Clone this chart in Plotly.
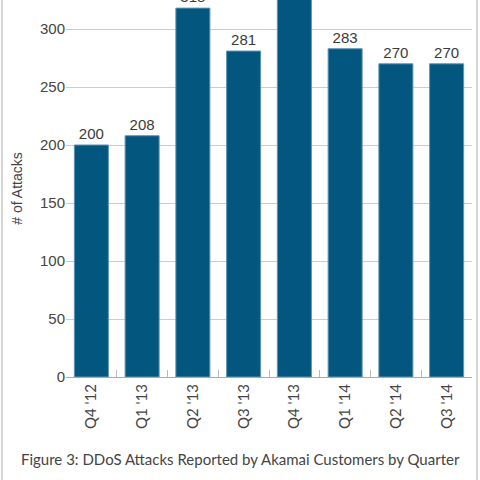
import plotly.graph_objects as go

# Ataques DDoS reportados por trimestre
quarters = ["Q4 '12", "Q1 '13", "Q2 '13", "Q3 '13", "Q4 '13", "Q1 '14", "Q2 '14", "Q3 '14"]
attacks = [200, 208, 318, 281, 346, 283, 270, 270]
y_ticks = [0, 50, 100, 150, 200, 250, 300]

fig = go.Figure()

fig.add_trace(go.Bar(
    x=quarters, y=attacks,
    text=[str(v) for v in attacks], textposition='outside',
    textfont=dict(size=15, color='#3a3a3a', family='Liberation Sans, Arial'),
    marker=dict(color='#03577f', line=dict(color='#5f93b3', width=1)),
    cliponaxis=True,
))

fig.update_layout(
    width=480, height=480,
    margin=dict(l=66, r=8, t=0, b=103),
    plot_bgcolor='white', paper_bgcolor='white',
    bargap=0.33,
    showlegend=False,
    font=dict(family='Liberation Sans, Arial', color='#444444'),
    xaxis=dict(
        type='category', tickangle=-90, tickson='boundaries',
        ticks='inside', ticklen=7, tickcolor='#bbbbbb',
        showline=True, linecolor='#aaaaaa', linewidth=1,
        showgrid=False, tickfont=dict(size=15, color='#444444', family='Lato'),
        automargin=False,
    ),
    yaxis=dict(
        range=[0, 325], tickvals=y_ticks, showgrid=True,
        gridcolor='#cccccc', gridwidth=1, zeroline=False,
        tickfont=dict(size=15, color='#444444'),
        title=dict(text='# of Attacks', font=dict(size=14, color='#444444'), standoff=14),
        automargin=False,
    ),
)

# moldura lateral da figura
for xp in [(2 - 66) / 406, (477 - 66) / 406]:
    fig.add_shape(type='line', xref='paper', yref='paper', x0=xp, x1=xp, y0=-0.3, y1=1.0,
                  line=dict(color='#aaaaaa', width=1))

fig.add_annotation(
    text='Figure 3: DDoS Attacks Reported by Akamai Customers by Quarter',
    xref='paper', yref='paper', x=(240 - 66) / 406, y=(377 - 459) / 377,
    xanchor='center', yanchor='middle', showarrow=False,
    font=dict(size=15, color='#444444', family='Lato'),
)

# tira a margem padrão do body para a figura ocupar a janela toda
fig.write_html("out.html", config={'displayModeBar': False},
               post_script="document.body.style.margin='0';")
